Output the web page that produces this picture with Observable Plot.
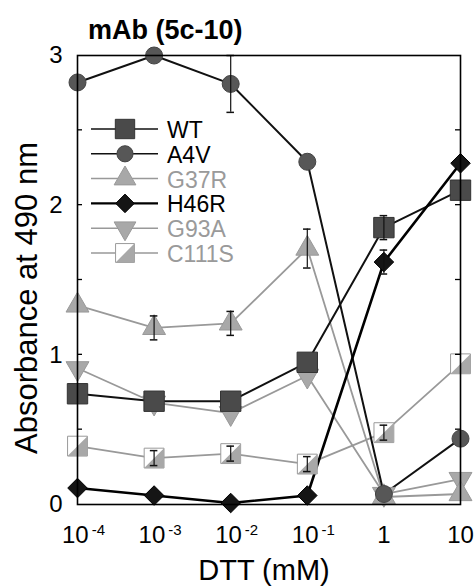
<!DOCTYPE html>
<html><head><meta charset="utf-8">
<script src="https://cdn.jsdelivr.net/npm/d3@7"></script>
<script src="https://cdn.jsdelivr.net/npm/@observablehq/plot@0.6"></script>
<style>
body{margin:0;background:#fff;}
#chart{position:relative;width:475px;height:588px;}
</style>
</head><body><div id="chart"></div>
<script>
// ---- data ----
const doses = [1e-4, 1e-3, 1e-2, 1e-1, 1, 10];
const doseTickLabels = ["10^-4", "10^-3", "10^-2", "10^-1", "1", "10"];
const yTicks = [0, 1, 2, 3];
const yMinorTicks = [0.5, 1, 1.5, 2, 2.5];
const seriesNames = ["WT", "A4V", "G37R", "H46R", "G93A", "C111S"];
const WT    = [0.74, 0.69, 0.69, 0.95, 1.85, 2.10];
const A4V   = [2.82, 3.00, 2.81, 2.29, 0.07, 0.44];
const G37R  = [1.33, 1.18, 1.21, 1.71, 0.05, 0.07];
const H46R  = [0.11, 0.06, 0.01, 0.06, 1.62, 2.28];
const G93A  = [0.91, 0.68, 0.61, 0.86, 0.07, 0.17];
const C111S = [0.39, 0.31, 0.34, 0.27, 0.48, 0.94];
const WTerr    = [0, 0, 0, 0, 0.08, 0];
const A4Verr   = [0, 0, 0.19, 0, 0, 0];
const G37Rerr  = [0, 0.08, 0.08, 0.13, 0, 0];
const H46Rerr  = [0, 0, 0, 0, 0.08, 0];
const G93Aerr  = [0, 0, 0, 0, 0, 0];
const C111Serr = [0, 0.05, 0.05, 0.05, 0.05, 0];
const titleText = "mAb (5c-10)";
const xLabel = "DTT (mM)";
const yLabel = "Absorbance at 490 nm";

// ---- build table ----
const valuesBySeries = {WT, A4V, G37R, H46R, G93A, C111S};
const errBySeries = {WT: WTerr, A4V: A4Verr, G37R: G37Rerr, H46R: H46Rerr, G93A: G93Aerr, C111S: C111Serr};
const rows = [];
for (const s of seriesNames) doses.forEach((d, i) => rows.push({series: s, x: d, y: valuesBySeries[s][i], err: errBySeries[s][i]}));
const errRows = rows.filter(r => r.err > 0);

// ---- custom symbols ----
const triangleDown = {draw(ctx, size) {
  const y = -Math.sqrt(size / (Math.sqrt(3) * 3));
  ctx.moveTo(0, -y * 2); ctx.lineTo(-Math.sqrt(3) * y, y); ctx.lineTo(Math.sqrt(3) * y, y); ctx.closePath();
}};
const halfSquare = {draw(ctx, size) {
  const s = Math.sqrt(size) / 2;
  ctx.moveTo(-s, s); ctx.lineTo(s, -s); ctx.lineTo(s, s); ctx.closePath();
}};

const LG = "#a8a8a8";
const style = {
  WT:    {line: "#111", lw: 2,   symbol: "square",   r: 11.5, fill: "#4a4a4a", stroke: "#333", text: "#000"},
  A4V:   {line: "#111", lw: 2,   symbol: "circle",   r: 8.5, fill: "#575757", stroke: "#444", text: "#000"},
  G37R:  {line: "#999", lw: 1.8, symbol: "triangle", r: 8.5, fill: LG, stroke: "#999", text: "#9a9a9a"},
  H46R:  {line: "#000", lw: 2.6, symbol: "diamond2", r: 8.8, fill: "#151515", stroke: "#000", text: "#000"},
  G93A:  {line: "#999", lw: 1.8, symbol: triangleDown, r: 8.5, fill: LG, stroke: "#999", text: "#9a9a9a"},
  C111S: {line: "#999", lw: 1.8, symbol: "square",   r: 11.2, fill: "#fff", stroke: "#9a9a9a", text: "#9a9a9a", half: true}
};
const drawOrder = ["C111S", "G93A", "G37R", "WT", "A4V", "H46R"];

const marks = [];
for (const s of drawOrder) {
  const st = style[s];
  marks.push(Plot.line(rows.filter(r => r.series === s), {x: "x", y: "y", stroke: st.line, strokeWidth: st.lw}));
}
for (const s of drawOrder) {
  const st = style[s];
  const data = rows.filter(r => r.series === s);
  marks.push(Plot.dot(data, {x: "x", y: "y", symbol: st.symbol, r: st.r, fill: st.fill, stroke: st.stroke, strokeWidth: 1}));
  if (st.half) marks.push(Plot.dot(data, {x: "x", y: "y", symbol: halfSquare, r: st.r, fill: LG, stroke: "none"}));
}
// error bars
marks.push(Plot.ruleX(errRows, {x: "x", y1: d => d.y - d.err, y2: d => d.y + d.err, stroke: "#111", strokeWidth: 1.2}));
marks.push(Plot.ruleY(errRows, {y: d => d.y + d.err, x1: d => d.x / 1.12, x2: d => d.x * 1.12, stroke: "#111", strokeWidth: 1.5}));
marks.push(Plot.ruleY(errRows, {y: d => d.y - d.err, x1: d => d.x / 1.12, x2: d => d.x * 1.12, stroke: "#111", strokeWidth: 1.5}));

const tickFmt = d => doseTickLabels[doses.findIndex(v => Math.abs(Math.log10(v) - Math.log10(d)) < 1e-6)];

const svg = Plot.plot({
  width: 475, height: 588,
  marginLeft: 77, marginRight: 15, marginTop: 55, marginBottom: 84,
  style: {fontFamily: "'Liberation Sans', Arial, Helvetica, sans-serif", background: "#fff", color: "#000"},
  x: {type: "log", domain: [1e-4, 10]},
  y: {domain: [0, 3]},
  marks: [
    Plot.axisY({ticks: yTicks, tickSize: 0, tickPadding: 15, fontSize: 24, tickFormat: d => String(d), label: null}),
    Plot.axisX({ticks: doses, tickSize: 0, tickPadding: 21, fontSize: 24, tickFormat: tickFmt, label: null}),
    ...marks,
    Plot.frame({stroke: "#000", strokeWidth: 1.6})
  ]
});

const root = d3.select(svg);
root.selectAll('g[aria-label="y-axis tick label"], g[aria-label="x-axis tick label"]').attr("font-size", 24)
  .selectAll("text").attr("font-size", 24);
// superscripts in x tick labels
root.selectAll('g[aria-label="x-axis tick label"] text').each(function () {
  const t = this.textContent;
  if (t.includes("^")) {
    const [b, e] = t.split("^");
    const sel = d3.select(this);
    sel.text(null);
    sel.append("tspan").text(b);
    sel.append("tspan").attr("dy", "-8").attr("font-size", "15").attr("dx", "3").text(e);
    sel.attr("dx", 6);
  }
});

// inward minor ticks on both vertical frame edges (positions from the plot's own scales)
const ys = svg.scale("y"), xs = svg.scale("x");
const xl = xs.apply(doses[0]), xr = xs.apply(doses[doses.length - 1]);
const mt = root.append("g").attr("aria-label", "y minor ticks").attr("stroke", "#000").attr("stroke-width", 1.3);
for (const v of yMinorTicks) {
  const py = ys.apply(v);
  mt.append("line").attr("x1", xl).attr("x2", xl + 5).attr("y1", py).attr("y2", py);
  mt.append("line").attr("x1", xr).attr("x2", xr - 5).attr("y1", py).attr("y2", py);
}

// title and axis labels
root.append("text").attr("x", 88).attr("y", 39).attr("text-anchor", "start").attr("font-size", 27).attr("font-weight", "bold").attr("fill", "#000").text(titleText);
root.append("text").attr("x", 264).attr("y", 580).attr("text-anchor", "middle").attr("font-size", 29).attr("fill", "#000").text(xLabel);
root.append("text").attr("transform", "translate(37,298) rotate(-90)").attr("text-anchor", "middle").attr("font-size", 31).attr("fill", "#000").text(yLabel);

// legend
const lg = root.append("g").attr("aria-label", "legend");
const symMap = {square: d3.symbolSquare, circle: d3.symbolCircle, triangle: d3.symbolTriangle, diamond2: d3.symbolDiamond2};
seriesNames.forEach((s, i) => {
  const st = style[s];
  const y = 129 + i * 24.8;
  lg.append("line").attr("x1", 91).attr("x2", 158).attr("y1", y).attr("y2", y)
    .attr("stroke", st.line).attr("stroke-width", s === "H46R" ? 2.4 : 1.5);
  const sym = typeof st.symbol === "string" ? symMap[st.symbol] : st.symbol;
  const r = st.r * 0.95;
  lg.append("path").attr("transform", `translate(125,${y})`).attr("d", d3.symbol(sym, Math.PI * r * r)())
    .attr("fill", st.fill).attr("stroke", st.stroke).attr("stroke-width", 1);
  if (st.half) lg.append("path").attr("transform", `translate(125,${y})`).attr("d", d3.symbol(halfSquare, Math.PI * r * r)()).attr("fill", LG);
  lg.append("text").attr("x", 167).attr("y", y + 9).attr("text-anchor", "start").attr("font-size", 23).attr("fill", st.text).text(s);
});

document.getElementById("chart").appendChild(svg);
</script>
</body></html>
